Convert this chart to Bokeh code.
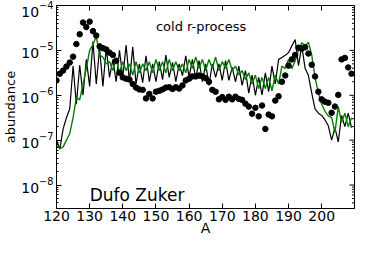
from bokeh.plotting import figure
from bokeh.models import (LinearAxis, FixedTicker, Label, Range1d,
                          ColumnDataSource, LogTickFormatter, CustomJSTickFormatter)
from bokeh.embed import file_html
from bokeh.resources import INLINE

# mass numbers
mass_A = list(range(120, 210))

# calculation (black line)
calc_black = [1.0e-7, 6.3e-8, 1.78e-7, 3.16e-7, 5.0e-7, 4.47e-6, 6.3e-7, 4.68e-6, 1.0e-6, 6.3e-6,
              1.58e-6, 1.58e-5, 1.78e-6, 1.12e-5, 1.58e-6, 1.12e-5, 2.5e-6, 6.3e-6, 2.0e-6, 1.0e-5,
              2.5e-6, 1.32e-5, 2.0e-6, 1.2e-5, 1.78e-6, 5.0e-6, 1.9e-6, 7.6e-6, 2.0e-6, 5.0e-6,
              2.0e-6, 5.6e-6, 2.24e-6, 7.9e-6, 2.5e-6, 5.4e-6, 2.0e-6, 5.0e-6, 2.75e-6, 7.6e-6,
              2.5e-6, 6.3e-6, 2.34e-6, 5.9e-6, 2.0e-6, 5.0e-6, 1.66e-6, 5.0e-6, 2.5e-6, 5.0e-6,
              2.14e-6, 5.9e-6, 2.14e-6, 4.17e-6, 2.0e-6, 4.47e-6, 1.66e-6, 3.55e-6, 1.12e-6, 2.82e-6,
              1.0e-6, 2.5e-6, 1.02e-6, 3.16e-6, 1.2e-6, 4.47e-6, 1.78e-6, 6.3e-6, 6.9e-6, 7.76e-6,
              8.9e-6, 1.26e-5, 1.74e-5, 4.57e-6, 1.26e-5, 3.98e-6, 2.75e-6, 1.12e-6, 5.0e-7, 3.98e-7,
              3.55e-7, 2.82e-7, 2.09e-7, 1.0e-7, 1.91e-7, 9.1e-8, 3.55e-7, 2.0e-7, 3.98e-7, 1.91e-7]

# calculation (green line)
calc_green = [7.6e-8, 6.5e-8, 7.1e-8, 1.0e-7, 1.41e-7, 3.16e-7, 8.9e-7, 7.9e-7, 1.78e-6, 3.98e-6,
              1.0e-5, 1.35e-5, 2.04e-5, 7.9e-6, 7.1e-6, 5.0e-6, 5.6e-6, 3.55e-6, 6.3e-6, 3.16e-6,
              5.6e-6, 3.55e-6, 5.0e-6, 2.82e-6, 5.6e-6, 3.16e-6, 5.0e-6, 3.55e-6, 5.6e-6, 3.16e-6,
              6.3e-6, 3.55e-6, 5.6e-6, 3.16e-6, 6.3e-6, 3.55e-6, 5.6e-6, 3.55e-6, 5.0e-6, 3.16e-6,
              6.3e-6, 3.98e-6, 7.1e-6, 3.98e-6, 6.3e-6, 3.55e-6, 6.3e-6, 3.98e-6, 7.1e-6, 3.55e-6,
              5.6e-6, 3.98e-6, 6.3e-6, 3.55e-6, 4.47e-6, 2.82e-6, 3.55e-6, 2.24e-6, 3.16e-6, 1.78e-6,
              2.82e-6, 1.41e-6, 2.5e-6, 1.41e-6, 2.5e-6, 1.26e-6, 2.82e-6, 1.78e-6, 4.47e-6, 3.98e-6,
              6.3e-6, 3.89e-6, 5.9e-6, 1.0e-5, 1.48e-5, 1.26e-5, 1.51e-5, 7.9e-6, 2.5e-6, 1.12e-6,
              6.3e-7, 4.37e-7, 3.47e-7, 3.16e-7, 1.48e-7, 5.6e-7, 2.5e-7, 3.98e-7, 2.0e-7, 3.16e-7]

# solar r-process abundances (dots)
solar_r = [2.14e-6, 3.02e-6, 3.55e-6, 4.37e-6, 5.37e-6, 7.24e-6, 1.38e-5, 2.29e-5, 4.17e-5, 3.31e-5,
           4.37e-5, 2.69e-5, 2.14e-5, 1.23e-5, 1.12e-5, 1.05e-5, 8.9e-6, 7.9e-6, 5.9e-6, 3.16e-6,
           2.5e-6, 2.34e-6, 2.24e-6, 1.78e-6, 1.48e-6, 1.35e-6, 1.32e-6, 8.5e-7, 1.07e-6, 8.5e-7,
           1.2e-6, 1.26e-6, 1.35e-6, 1.48e-6, 1.51e-6, 1.38e-6, 1.51e-6, 1.41e-6, 1.66e-6, 2.14e-6,
           2.34e-6, 2.63e-6, 2.63e-6, 2.75e-6, 2.63e-6, 2.4e-6, 2.0e-6, 1.32e-6, 1.2e-6, 8.1e-7,
           9.1e-7, 7.9e-7, 9.3e-7, 8.1e-7, 9.3e-7, 8.3e-7, 7.9e-7, 6.5e-7, 5.6e-7, 3.89e-7,
           5.25e-7, 3.39e-7, 5.9e-7, 1.78e-7, 3.72e-7, 3.39e-7, 7.6e-7, 9.5e-7, 2.0e-6, 2.75e-6,
           4.57e-6, 6.3e-6, 7.9e-6, 1.15e-5, 1.1e-5, 1.17e-5, 8.5e-6, 4.79e-6, 2.63e-6, 1.2e-6,
           8.1e-7, 7.2e-7, 6.8e-7, 4.07e-7, 5.6e-7, 1.02e-6, 6.3e-6, 6.8e-6, 4.17e-6, 3.02e-6]

x_ticks = [120, 130, 140, 150, 160, 170, 180, 190, 200]
y_ticks = [1e-8, 1e-7, 1e-6, 1e-5, 1e-4]
y_minor = [m * d for d in [1e-9, 1e-8, 1e-7, 1e-6, 1e-5] for m in range(2, 10)]

FONT = "DejaVu Sans"
X_LO, X_HI = 120, 209.9
FRAME_W, FRAME_H = 298, 203

src = ColumnDataSource(data=dict(A=mass_A, black=calc_black, green=calc_green, solar=solar_r))

p = figure(frame_width=FRAME_W, frame_height=FRAME_H,
           x_range=Range1d(X_LO, X_HI), y_range=Range1d(3e-9, 1e-4),
           y_axis_type="log", output_backend="svg", toolbar_location=None,
           min_border_left=49, min_border_right=8, min_border_top=5, min_border_bottom=36)
p.grid.visible = False
p.outline_line_color = "black"
p.outline_line_width = 1
p.background_fill_color = "white"
p.border_fill_color = "white"

p.line("A", "black", source=src, line_color="black", line_width=1.2)
p.line("A", "green", source=src, line_color="#008000", line_width=1.4)
p.scatter("A", "solar", source=src, size=5.5, color="black")

# inward ticks on the right-hand spine (mirror of the left axis ticks)
px_per_unit = FRAME_W / (X_HI - X_LO)
p.segment(x0=[X_HI] * len(y_ticks), x1=[X_HI - 5 / px_per_unit] * len(y_ticks),
          y0=y_ticks, y1=y_ticks, line_color="black", line_width=1)
p.segment(x0=[X_HI] * len(y_minor), x1=[X_HI - 2.5 / px_per_unit] * len(y_minor),
          y0=y_minor, y1=y_minor, line_color="black", line_width=1)

xt = FixedTicker(ticks=x_ticks)
yt = FixedTicker(ticks=y_ticks, minor_ticks=y_minor)

def style(ax):
    ax.major_tick_in = 5
    ax.major_tick_out = 0
    ax.minor_tick_in = 2
    ax.minor_tick_out = 0
    ax.axis_line_color = "black"
    ax.major_tick_line_color = "black"
    ax.minor_tick_line_color = "black"
    ax.major_label_text_font = FONT
    ax.major_label_text_font_size = "14px"
    ax.major_label_text_color = "black"
    ax.axis_label_text_font = FONT
    ax.axis_label_text_font_style = "normal"
    ax.axis_label_text_font_size = "14px"
    ax.axis_label_text_color = "black"

xa = p.xaxis[0]
xa.ticker = xt
style(xa)
xa.axis_label = "A"
xa.major_label_standoff = 2
xa.axis_label_standoff = -4

ya = p.yaxis[0]
ya.ticker = yt
ya.formatter = LogTickFormatter()
style(ya)
ya.axis_label = "abundance"
ya.axis_label_text_font_size = "13px"
ya.major_label_standoff = 3
ya.axis_label_standoff = 0

blank = CustomJSTickFormatter(code="return ''")

top = LinearAxis(ticker=xt, formatter=blank)
style(top)
top.major_label_text_color = None
top.major_label_standoff = 0
p.add_layout(top, "above")

p.add_layout(Label(x=150, y=3.4e-5, text="cold r-process", text_font=FONT,
                   text_font_size="13px", text_color="black", text_baseline="alphabetic"))
p.add_layout(Label(x=130, y=5.9e-9, text="Dufo Zuker", text_font=FONT,
                   text_font_size="17px", text_color="black", text_baseline="alphabetic"))

open("out.html", "w").write(file_html(p, INLINE))
